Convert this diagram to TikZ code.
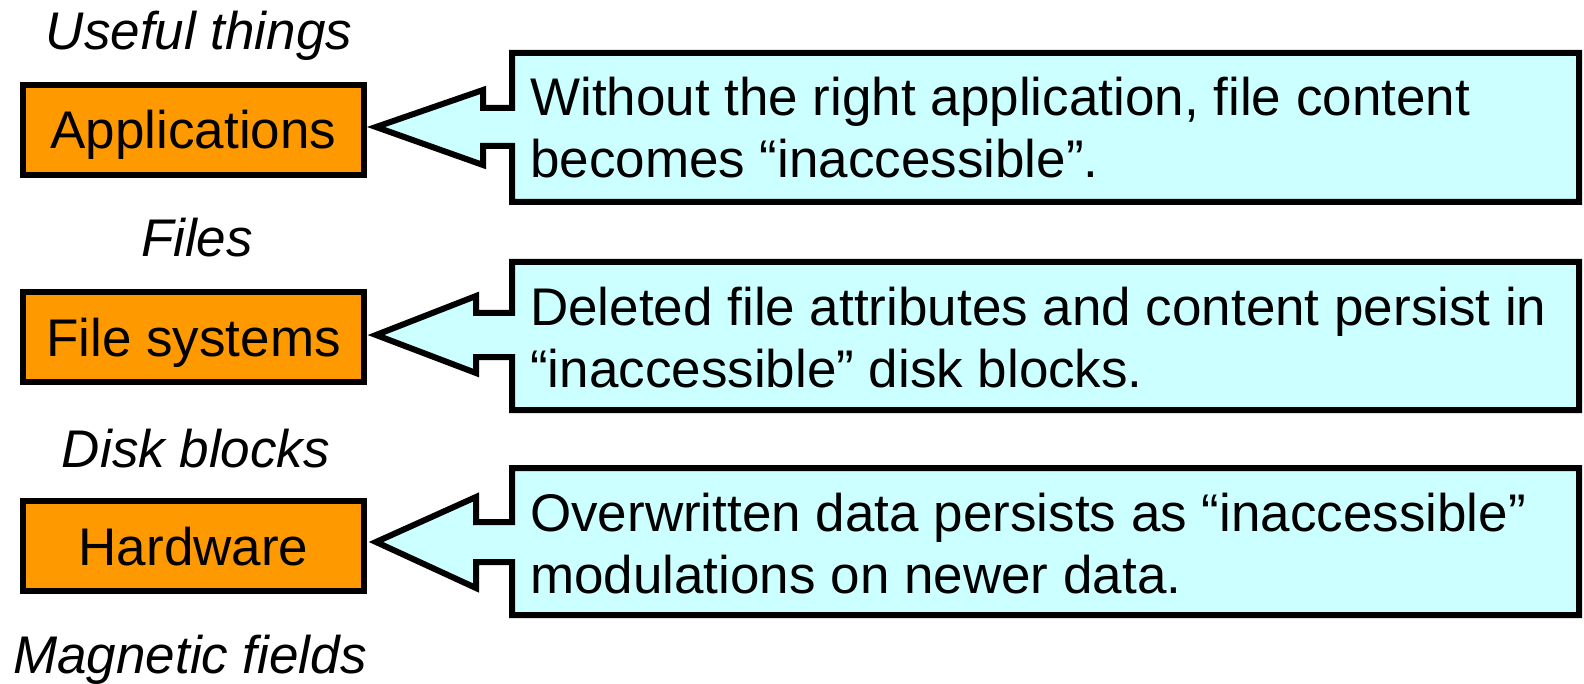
\documentclass[tikz,border=0pt]{standalone}
\usepackage{fontspec}
\setmainfont{Liberation Sans}
\usetikzlibrary{calc}
\definecolor{boxorange}{HTML}{FF9900}
\definecolor{calloutcyan}{HTML}{CCFFFF}
\begin{document}
\begin{tikzpicture}[x=1pt,y=-1pt,
  layer/.style={draw=black,line width=6pt,fill=boxorange,minimum width=341pt,
    minimum height=90pt,inner sep=0pt,text height=38pt,text depth=0pt,
    font=\fontsize{53}{62}\selectfont},
  level/.style={font=\fontsize{53}{62}\selectfont\itshape,anchor=base,inner sep=0pt},
  note/.style={font=\fontsize{53}{62}\selectfont,align=left,anchor=base west,inner sep=0pt},
  callout/.style={draw=black,line width=6pt,fill=calloutcyan,line join=miter}]
\useasboundingbox (0,0) rectangle (1584,684);

% layer labels
\node[level] (l1) at (199,50) {Useful things};
\node[level] (l2) at (197,257) {Files};
\node[level] (l3) at (196,467) {Disk blocks};
\node[level] (l4) at (190,673) {Magnetic fields};

% layers
\node[layer] (app) at (193.5,130) {Applications};
\node[layer] (fs)  at (193.5,337) {File systems};
\node[layer] (hw)  at (193.5,546) {Hardware};

% callouts pointing at the layers
\path[callout] (512,53) -- (1579,53) -- (1579,202) -- (512,202) -- (512,146)
  -- (483,146) -- (483,165) -- ($(app.east)+(9,-3)$) -- (483,90) -- (483,108)
  -- (512,108) -- cycle;
\path[callout] (512,262) -- (1579,262) -- (1579,410) -- (512,410) -- (512,357)
  -- (476,357) -- (476,373) -- ($(fs.east)+(9,-2)$) -- (476,296) -- (476,313)
  -- (512,313) -- cycle;
\path[callout] (512,468) -- (1579,468) -- (1579,615) -- (512,615) -- (512,562)
  -- (476,562) -- (476,588) -- ($(hw.east)+(9,-4)$) -- (476,497) -- (476,522)
  -- (512,522) -- cycle;

% callout texts (anchored on the baseline of the last line)
\node[note] (n1) at (530,178) {Without the right application, file content\\becomes “inaccessible”.};
\node[note] (n2) at (530,387) {Deleted file attributes and content persist in\\“inaccessible” disk blocks.};
\node[note] (n3) at (530,593) {Overwritten data persists as “inaccessible”\\modulations on newer data.};
\end{tikzpicture}
\end{document}
